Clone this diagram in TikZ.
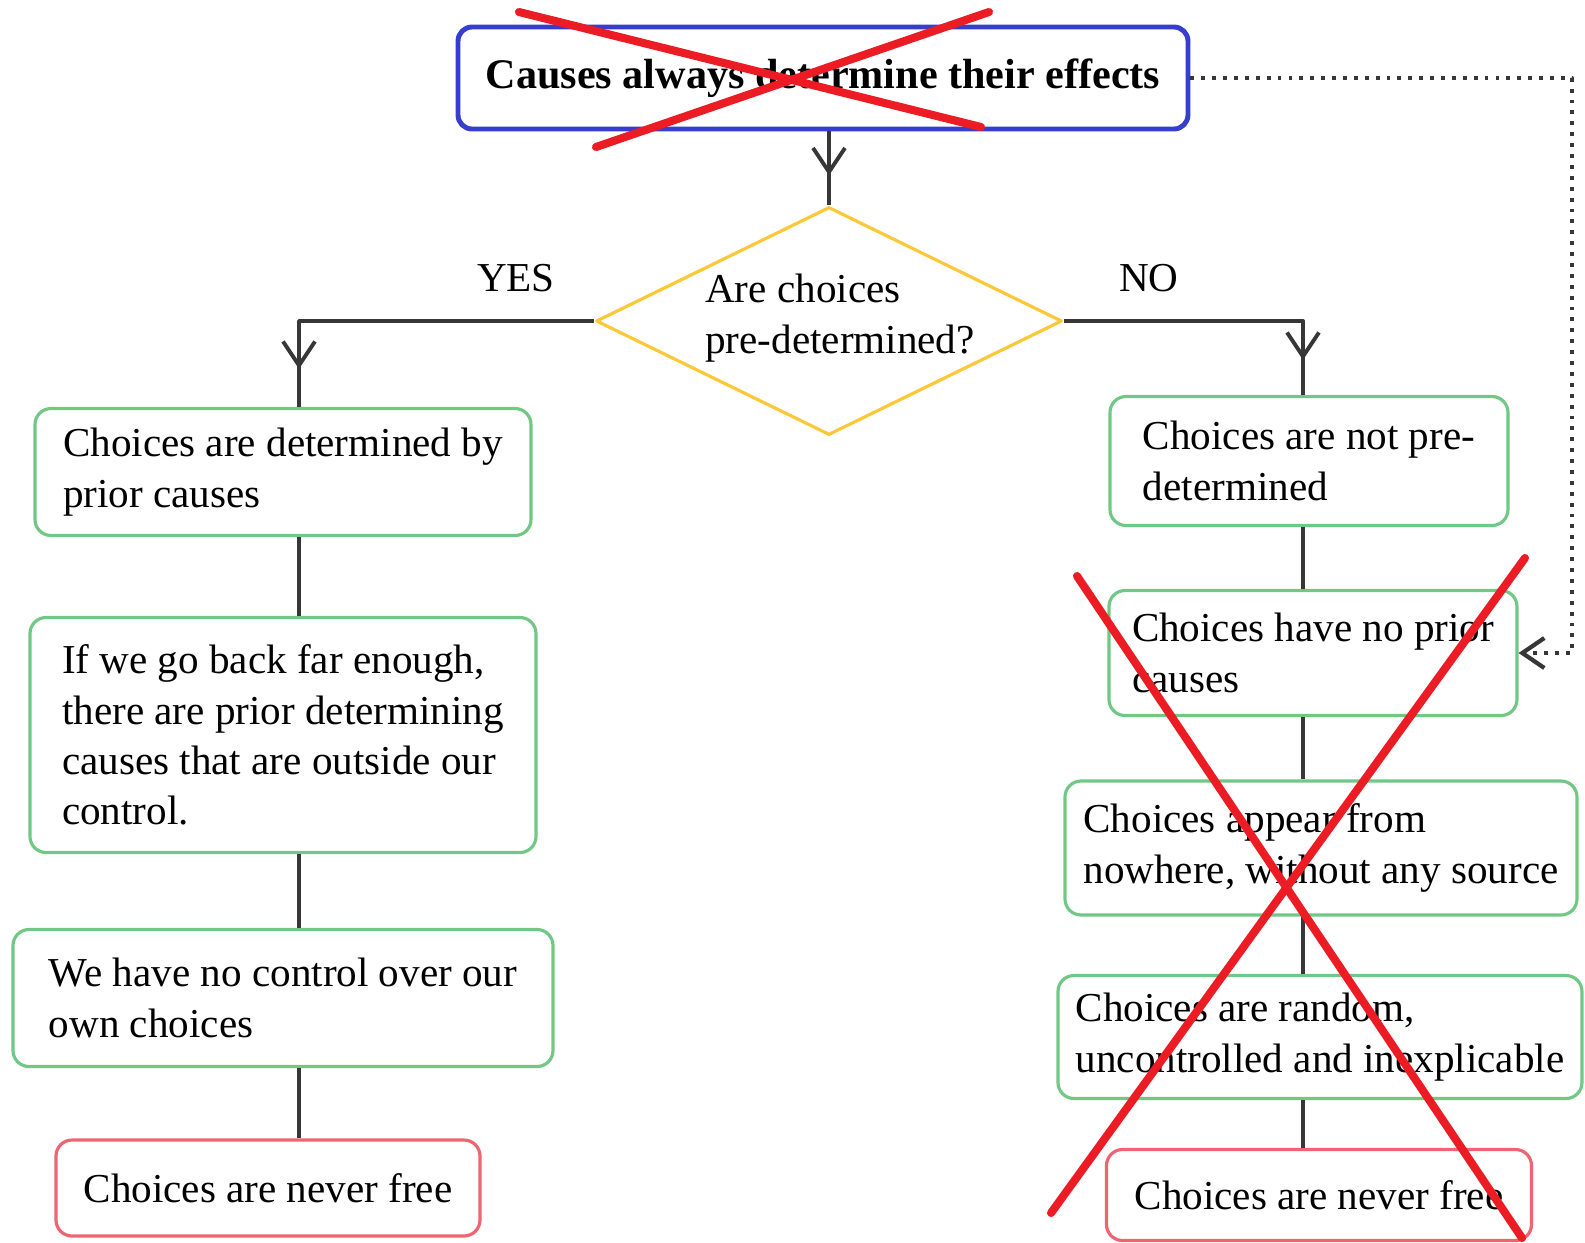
\documentclass[tikz,border=0pt]{standalone}
\usepackage{fontspec}
\setmainfont{Liberation Serif}
\usetikzlibrary{shapes.geometric,arrows.meta,decorations.markings}
\definecolor{boxblue}{RGB}{55,62,205}
\definecolor{boxgreen}{RGB}{112,200,132}
\definecolor{boxred}{RGB}{238,100,112}
\definecolor{qyellow}{RGB}{252,200,55}
\definecolor{crossred}{RGB}{236,28,36}
\definecolor{linegray}{RGB}{55,55,55}
\begin{document}
\begin{tikzpicture}[x=0.1mm, y=-0.1mm, font=\fontsize{11.7}{14.3}\selectfont, line join=round,
	flowbox/.style={draw, rounded corners=1.6mm, line width=0.9pt, align=left, inner sep=0pt},
	greenbox/.style={flowbox, draw=boxgreen},
	redbox/.style={flowbox, draw=boxred},
	flow/.style={draw=linegray, line width=1.1pt},
	midarrow/.style={postaction={decorate}, decoration={markings, mark=at position #1 with {\arrow{Straight Barb[length=2.4mm, width=3.2mm]}}}},
	cross/.style={draw=crossred, line width=2.3pt, line cap=round}]
	\useasboundingbox (0,0) rectangle (1585,1242);
	% question
	\node[flowbox, draw=boxblue, line width=1.4pt, rounded corners=1.4mm, minimum width=73mm, minimum height=10.2mm, font=\fontsize{12}{14}\selectfont\bfseries] (cause) at (823,78) {Causes always determine their effects};
	\node[diamond, draw=qyellow, line width=0.9pt, minimum width=46.6mm, minimum height=22.8mm, inner sep=0pt] (q) at (829,321) {};
	\node[align=left] (qtext) at (840,318) {Are choices\\pre-determined?};
	\node (yes) at (516,278) {YES};
	\node (no) at (1149,278) {NO};
	% yes branch
	\node[greenbox, minimum width=49.6mm, minimum height=12.7mm] (det) at (283,472) {Choices are determined by\\prior causes};
	\node[greenbox, minimum width=50.6mm, minimum height=23.5mm] (back) at (283,735) {If we go back far enough,\\there are prior determining\\causes that are outside our\\control.};
	\node[greenbox, minimum width=54mm, minimum height=13.7mm] (noctrl) at (283,998) {We have no control over our\\own choices};
	\node[redbox, minimum width=42.4mm, minimum height=9.6mm] (neverL) at (268,1188) {Choices are never free};
	% no branch
	\node[greenbox, minimum width=39.8mm, minimum height=12.9mm] (notpre) at (1309,461) {Choices are not pre-\\determined};
	\node[greenbox, minimum width=40.8mm, minimum height=12.5mm] (noprior) at (1313,653) {Choices have no prior\\causes};
	\node[greenbox, minimum width=51.2mm, minimum height=13.4mm] (nowhere) at (1321,848) {Choices appear from\\nowhere, without any source};
	\node[greenbox, minimum width=52.4mm, minimum height=12.3mm] (random) at (1320,1037) {Choices are random,\\uncontrolled and inexplicable};
	\node[redbox, minimum width=42.5mm, minimum height=9.1mm] (neverR) at (1319,1195) {Choices are never free};
	\coordinate (yescol) at (299,321);
	\coordinate (nocol) at (1303,321);
	\coordinate (backlink) at (1572,653);
	% connectors
	\draw[flow, midarrow=-3mm] (cause.south -| q.north) -- (q.north);
	\draw[flow, midarrow=-3.8mm] (q.west) -- (yescol) -- (det.north -| yescol);
	\draw[flow, midarrow=-3.5mm] (q.east) -- (nocol) -- (notpre.north -| nocol);
	\draw[flow] (det.south -| yescol) -- (back.north -| yescol);
	\draw[flow] (back.south -| yescol) -- (noctrl.north -| yescol);
	\draw[flow] (noctrl.south -| yescol) -- (neverL.north -| yescol);
	\draw[flow] (notpre.south -| nocol) -- (noprior.north -| nocol);
	\draw[flow] (noprior.south -| nocol) -- (nowhere.north -| nocol);
	\draw[flow] (nowhere.south -| nocol) -- (random.north -| nocol);
	\draw[flow] (random.south -| nocol) -- (neverR.north -| nocol);
	\draw[flow, dotted, line width=1.2pt, -{Straight Barb[length=2.2mm, width=3mm]}] (cause.east) -| (backlink) -- (noprior.east);
	% crossed out
	\draw[cross] (519,12) -- (981,127);
	\draw[cross] (596,147) -- (989,12);
	\draw[cross] (1077,576) -- (1522,1238);
	\draw[cross] (1525,558) -- (1051,1213);
\end{tikzpicture}
\end{document}
